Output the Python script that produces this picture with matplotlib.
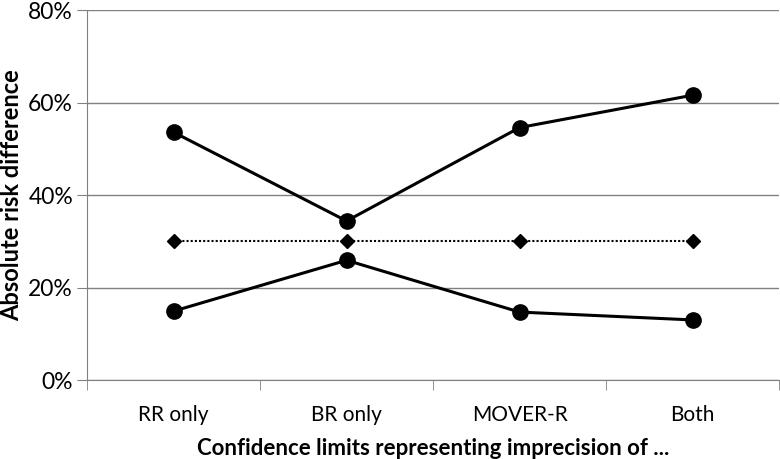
import matplotlib
matplotlib.use('Agg')
import matplotlib.pyplot as plt
from matplotlib.ticker import FuncFormatter, FixedLocator

categories = ['RR only', 'BR only', 'MOVER-R', 'Both']
upper_limit = [53.6, 34.4, 54.6, 61.6]
point_estimate = [30.0, 30.0, 30.0, 30.0]
lower_limit = [14.9, 25.9, 14.7, 13.0]
y_ticks = [0, 20, 40, 60, 80]

plt.rcParams['font.family'] = ['Lato', 'DejaVu Sans']

fig = plt.figure(figsize=(7.8, 4.59), dpi=100)
ax = fig.add_axes([0.1115, 0.172, 0.8875, 0.806])

x = list(range(len(categories)))
ax.plot(x, upper_limit, 'k-', marker='o', markersize=11, linewidth=2.2, zorder=3)
ax.plot(x, lower_limit, 'k-', marker='o', markersize=11, linewidth=2.2, zorder=3)
ax.plot(x, point_estimate, color='black', linestyle=(0, (1, 1)), linewidth=1.5,
        marker='D', markersize=7.5, zorder=3)

ax.set_xlim(-0.5, len(categories) - 0.5)
ax.set_ylim(0, 80)
ax.set_yticks(y_ticks)
ax.yaxis.set_major_formatter(FuncFormatter(lambda v, p: '%d%%' % v))
ax.grid(axis='y', color='#808080', linewidth=1)
ax.set_axisbelow(True)

ax.set_xticks(x)
ax.set_xticklabels(categories, fontsize=15)
ax.tick_params(axis='x', which='major', length=0, pad=18)
ax.xaxis.set_minor_locator(FixedLocator([i - 0.5 for i in range(len(categories) + 1)]))
ax.tick_params(axis='x', which='minor', length=7, color='#808080', direction='out')
ax.tick_params(axis='y', labelsize=16.5, length=7, color='#808080', direction='out', pad=3)

for side in ['top', 'right']:
    ax.spines[side].set_visible(False)
for side in ['left', 'bottom']:
    ax.spines[side].set_color('#808080')

ax.set_xlabel('Confidence limits representing imprecision of ...', fontsize=16,
              fontweight='bold', labelpad=9)
ax.set_ylabel('Absolute risk difference', fontsize=17, fontweight='bold', labelpad=4)

fig.savefig('out.png', dpi=100)
